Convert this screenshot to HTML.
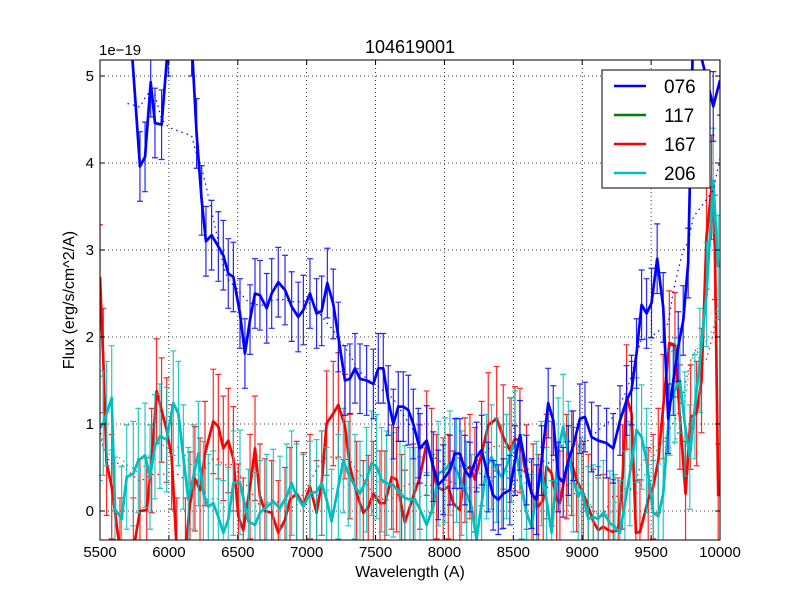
<!DOCTYPE html>
<html><head><meta charset="utf-8"><style>
body{margin:0;background:#fff;font-family:"Liberation Sans",sans-serif}
svg text{font-family:"Liberation Sans",sans-serif}
</style></head><body>
<svg id="chart" width="800" height="600" xmlns="http://www.w3.org/2000/svg">
<rect width="800" height="600" fill="#fff"/>
<defs><clipPath id="clip"><rect x="100" y="60" width="620" height="480"/></clipPath></defs>
<g id="grid"></g>
<g id="plot" clip-path="url(#clip)"></g>
<rect x="100" y="60" width="620" height="480" fill="none" stroke="#000" stroke-width="1"/>
<g id="ticks"></g>
<text x="410" y="53" font-size="18" text-anchor="middle">104619001</text>
<text x="99" y="55" font-size="15">1e−19</text>
<text x="410" y="577" font-size="16" text-anchor="middle">Wavelength (A)</text>
<text transform="translate(74,300) rotate(-90)" font-size="16" text-anchor="middle">Flux (erg/s/cm^2/A)</text>
<g id="legend"></g>
</svg>
<script>
const xTicks=[5500,6000,6500,7000,7500,8000,8500,9000,9500,10000];
const yTicks=[0,1,2,3,4,5];
const seriesNames=["076","117","167","206"];
const seriesColors=["#0000ff","#008000","#ff0000","#00bfbf"];
const seriesErr=[0.4,0,0.6,0.6];
const w076=[5700,5790,5827,5868,5899,5947,5996,6165,6201,6238,6269,6310,6359,6395,6431,6468,6516,6552,6589,6625,6661,6710,6746,6794,6843,6891,6939,6976,7024,7072,7109,7150,7193,7230,7278,7314,7351,7387,7435,7484,7520,7556,7592,7629,7665,7701,7738,7774,7810,7822,7871,7919,7955,7991,8040,8076,8112,8149,8185,8233,8270,8318,8354,8391,8427,8475,8512,8548,8596,8632,8669,8705,8753,8790,8826,8862,8899,8935,8983,9020,9068,9116,9177,9225,9274,9322,9358,9394,9431,9467,9503,9544,9588,9624,9661,9697,9733,9769,9806,9951,10000];
const f076=[6.0,3.96,4.07,4.93,4.46,4.44,5.4,5.4,4.34,3.57,3.1,3.17,3.04,2.94,2.73,2.69,2.27,1.81,2.2,2.5,2.48,2.33,2.5,2.63,2.54,2.35,2.23,2.31,2.5,2.27,2.3,2.62,2.38,2.0,1.5,1.52,1.64,1.52,1.5,1.46,1.64,1.64,1.27,1.0,1.2,1.2,1.16,1.0,0.78,0.72,0.81,0.51,0.3,0.36,0.47,0.66,0.66,0.47,0.39,0.62,0.7,0.39,0.18,0.13,0.2,0.24,0.58,0.87,0.47,0.2,0.13,0.58,1.24,1.04,0.39,0.33,0.58,0.75,1.06,1.08,0.85,0.81,0.78,0.72,1.04,1.27,1.39,1.81,2.37,2.27,2.39,2.9,2.34,1.06,1.5,1.89,2.19,2.85,5.6,4.65,4.95];
const w167=[5500,5524,5548,5585,5645,5742,5790,5839,5875,5911,5947,5984,6020,6057,6120,6153,6189,6226,6262,6322,6359,6395,6431,6468,6504,6540,6589,6625,6661,6697,6746,6794,6843,6879,6927,6976,7024,7072,7109,7145,7193,7230,7278,7314,7363,7411,7447,7484,7532,7568,7617,7653,7689,7713,7774,7822,7871,7907,7943,7991,8028,8064,8112,8149,8185,8221,8270,8318,8379,8427,8475,8512,8548,8596,8644,8681,8717,8741,8778,8814,8838,8887,8923,8959,9008,9044,9080,9116,9153,9189,9225,9261,9293,9322,9358,9390,9419,9479,9515,9552,9588,9632,9673,9709,9750,9787,9830,9866,9902,9939,9963,9987];
const f167=[2.69,1.73,0.55,0.28,-0.45,-0.45,0.0,0.01,0.58,1.38,1.16,0.93,0.62,-0.45,-0.45,0.08,0.37,0.24,0.66,1.03,0.97,0.72,0.81,0.6,-0.06,-0.22,0.28,0.72,0.17,0.0,-0.02,-0.25,-0.1,0.13,0.2,0.07,0.28,-0.02,0.32,1.01,1.12,1.22,0.97,0.51,0.2,-0.02,0.04,0.2,0.09,0.09,0.39,0.36,0.05,-0.13,0.17,0.39,0.78,0.58,0.28,0.24,0.28,0.09,0.01,0.47,0.51,0.36,0.66,0.99,1.06,0.85,0.7,0.83,0.81,0.39,0.17,0.05,0.13,0.51,0.43,0.13,0.09,0.51,0.55,0.36,0.2,0.05,-0.12,-0.22,-0.18,-0.22,-0.24,-0.22,0.39,1.31,1.12,-0.25,-0.24,0.13,0.28,0.58,1.2,1.93,1.91,1.08,0.2,1.08,1.12,1.5,3.15,3.72,3.03,0.17];
const w206=[5500,5524,5548,5585,5609,5657,5694,5742,5778,5827,5863,5899,5935,5984,6032,6069,6105,6141,6177,6214,6250,6286,6322,6359,6395,6431,6468,6516,6577,6625,6661,6710,6758,6806,6855,6891,6927,6976,7024,7072,7109,7145,7181,7230,7266,7302,7351,7387,7435,7471,7508,7544,7580,7629,7677,7713,7750,7786,7822,7871,7919,7955,8004,8040,8088,8124,8161,8197,8233,8270,8306,8342,8379,8415,8451,8487,8512,8560,8596,8632,8669,8705,8741,8778,8826,8862,8899,8935,8971,8995,9044,9080,9116,9153,9201,9237,9274,9310,9346,9394,9431,9467,9515,9552,9588,9636,9673,9709,9745,9781,9818,9854,9902,9951,9987];
const f206=[0.95,1.01,1.12,1.3,0.02,-0.09,0.39,0.43,0.58,0.64,0.39,0.74,0.86,0.82,1.24,1.12,0.62,0.13,0.39,0.66,0.2,0.05,0.09,-0.07,-0.25,-0.1,0.32,0.33,-0.12,-0.16,-0.02,0.05,0.11,0.03,0.17,0.32,0.17,0.05,0.2,0.22,0.32,0.13,-0.12,0.28,0.58,0.43,0.28,0.2,0.36,0.55,0.51,0.36,0.32,0.3,0.2,0.15,0.13,0.13,0.02,-0.16,0.05,0.43,0.47,0.55,0.47,0.32,0.2,0.05,-0.33,0.09,0.51,0.62,0.47,0.39,0.51,0.7,0.78,0.28,-0.02,-0.18,0.2,0.43,0.13,-0.25,0.7,0.97,0.66,0.36,0.17,0.24,-0.09,-0.07,-0.09,-0.02,-0.14,-0.18,-0.25,0.09,0.43,0.93,0.85,0.58,-0.02,-0.06,0.2,1.24,1.39,1.5,1.0,0.62,1.2,1.73,2.49,3.8,2.8];

const NS="http://www.w3.org/2000/svg";
const X=v=>100+(v-5500)*620/4500;
const Y=v=>511-v*87;
function mk(tag,attrs,parent){const e=document.createElementNS(NS,tag);for(const k in attrs)e.setAttribute(k,attrs[k]);parent.appendChild(e);return e;}
const grid=document.getElementById('grid'),ticks=document.getElementById('ticks'),plot=document.getElementById('plot'),legend=document.getElementById('legend');
xTicks.forEach(t=>{
  const g=mk('line',{x1:X(t),x2:X(t),y1:60,y2:540,stroke:'#000','stroke-dasharray':'1,3','stroke-width':0.8},grid);
  
  mk('line',{x1:X(t),x2:X(t),y1:540,y2:535,stroke:'#000'},ticks);
  mk('line',{x1:X(t),x2:X(t),y1:60,y2:65,stroke:'#000'},ticks);
  const tx=mk('text',{x:X(t),y:557,'font-size':15,'text-anchor':'middle'},ticks);tx.textContent=t;
  
});
yTicks.forEach(t=>{
  const g=mk('line',{x1:100,x2:720,y1:Y(t),y2:Y(t),stroke:'#000','stroke-dasharray':'1,3','stroke-width':0.8},grid);
  
  mk('line',{x1:100,x2:105,y1:Y(t),y2:Y(t),stroke:'#000'},ticks);
  mk('line',{x1:720,x2:715,y1:Y(t),y2:Y(t),stroke:'#000'},ticks);
  const tx=mk('text',{x:94,y:Y(t)+5,'font-size':15,'text-anchor':'end'},ticks);tx.textContent=t;
  
});
function smooth(ws,fs,n){const out=[];for(let i=0;i<ws.length;i++){let s=0,c=0;for(let j=Math.max(0,i-n);j<=Math.min(ws.length-1,i+n);j++){s+=fs[j];c++;}out.push([ws[i],s/c]);}return out;}
function draw(ws,fs,col,err,name){
  const g=mk('g',{},plot);
  
  const sm=smooth(ws,fs,4);
  mk('polyline',{points:sm.map(p=>X(p[0])+','+Y(p[1])).join(' '),fill:'none',stroke:col,'stroke-width':1.2,'stroke-dasharray':'1.5,4'},g);
  ws.forEach((w,i)=>{
    const x=X(w),y1=Y(fs[i]-err),y2=Y(fs[i]+err);
    const eb=mk('path',{d:`M${x},${y1}V${y2}M${x-3},${y1}h6M${x-3},${y2}h6`,stroke:col,'stroke-width':1.2,fill:'none','stroke-opacity':0.85},g);
    
  });
  const l=mk('polyline',{points:ws.map((w,i)=>X(w)+','+Y(fs[i])).join(' '),fill:'none',stroke:col,'stroke-width':2.7,'stroke-linejoin':'round'},g);
  
}
draw(w167,f167,seriesColors[2],seriesErr[2],'167');
draw(w206,f206,seriesColors[3],seriesErr[3],'206');
draw(w076,f076,seriesColors[0],seriesErr[0],'076');
const box=mk('rect',{x:602,y:70,width:108,height:118,fill:'#fff',stroke:'#000'},legend);

seriesNames.forEach((n,i)=>{
  const y=86+i*29;
  const g=mk('g',{},legend);
  
  mk('line',{x1:614,x2:646,y1:y,y2:y,stroke:seriesColors[i],'stroke-width':2.5},g);
  const t=mk('text',{x:664,y:y+7,'font-size':19},g);t.textContent=n;
});
</script>
</body></html>
